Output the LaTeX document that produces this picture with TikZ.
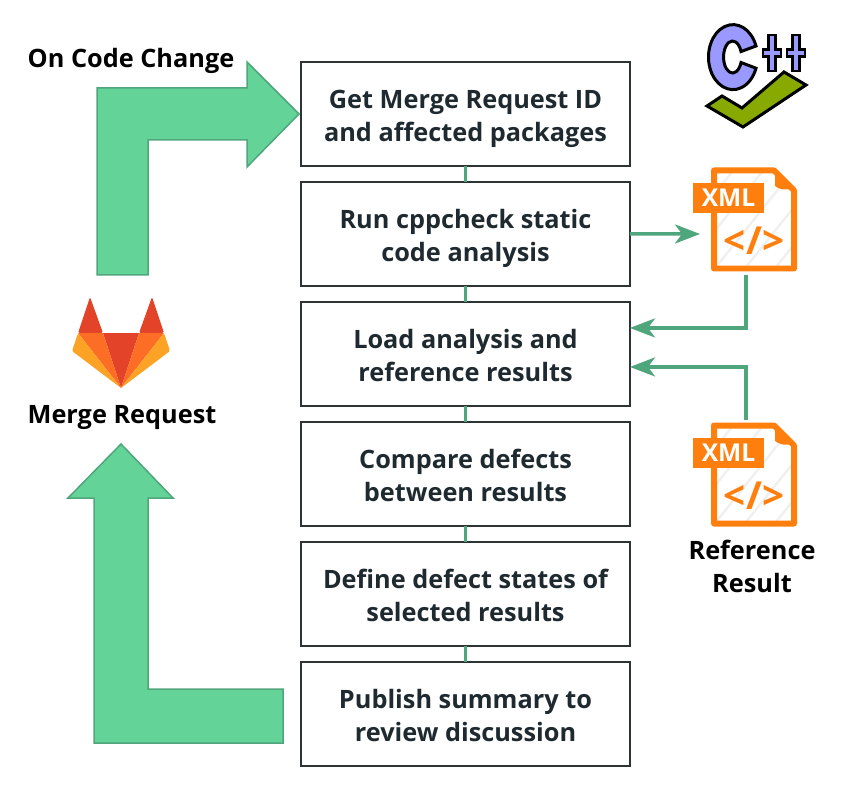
\documentclass[tikz,border=0pt]{standalone}
\usepackage{fontspec}
\setmainfont{Open Sans}
\usepackage{xcolor}
\usetikzlibrary{arrows.meta,positioning,calc}
\definecolor{boxline}{HTML}{2E3436}
\definecolor{inkdark}{HTML}{1F2A30}
\definecolor{linkgreen}{HTML}{4FA67C}
\definecolor{bigfill}{HTML}{64D398}
\definecolor{xmlorange}{HTML}{FF7F0E}
\definecolor{cppblue}{HTML}{9999FF}
\definecolor{cppgreen}{HTML}{88AA00}
\definecolor{labred}{HTML}{E24329}
\definecolor{laborange}{HTML}{FC6D26}
\definecolor{labyellow}{HTML}{FCA326}
\tikzset{
  stepbox/.style={draw=boxline,line width=0.04cm,outer sep=0pt,align=center,text=inkdark,
              font=\fontsize{14.4}{18.8}\selectfont\bfseries,text height=35.2pt,text depth=4pt,
              minimum width=6.58cm,minimum height=2.08cm,inner sep=0pt,fill=white},
  lbl/.style={align=center,text=black,inner sep=0pt,
              font=\fontsize{14.4}{18.8}\selectfont\bfseries},
  joinline/.style={line width=0.07cm,linkgreen},
  arr/.style={-{Stealth[length=0.5cm,width=0.38cm,inset=0.14cm]},line width=0.07cm,linkgreen},
  bigarrow/.style={draw=linkgreen,line width=0.03cm,fill=bigfill,line join=miter},
  xmlicon/.pic={
    % sheet with the folded corner, centred on the pic origin
    \node[minimum width=1.72cm,minimum height=2.1cm,inner sep=0pt,outer sep=0pt] (-body) at (0,0) {};
    \begin{scope}
      \clip (-40,-49) -- (20,-49) -- (40,-29) -- (40,49) -- (-40,49) -- cycle;
      \foreach \s in {-60,-30,...,90}
        \draw[black!6,line width=0.05cm] (\s-40,50) -- (\s+40,-50);
    \end{scope}
    \draw[xmlorange,line width=0.12cm,line join=round]
      (-40,-49) -- (20,-49) -- (40,-29) -- (40,49) -- (-40,49) -- cycle;
    \fill[xmlorange,rounded corners=0.02cm] (21,-51) -- (42,-30) -- (28,-30) -- (21,-33) -- cycle;
    \node[fill=xmlorange,text=white,inner sep=0pt,minimum width=1.42cm,minimum height=0.62cm,
          font=\fontsize{14}{14}\selectfont\bfseries] (-tag) at (-25.5,-21.5) {XML};
    \node[text=xmlorange,inner sep=0pt,font=\fontsize{22}{24}\selectfont\bfseries] (-code) at (0,21) {</>};
  },
}
\begin{document}
\begin{tikzpicture}[x=0.02cm,y=-0.02cm]
  \useasboundingbox (0,0) rectangle (868,800);

  % big arrows
  \draw[bigarrow] (97,275) -- (97,88) -- (247,88) -- (247,62) -- (299,114) -- (247,167)
    -- (247,140) -- (148,140) -- (148,275) -- cycle;
  \draw[bigarrow] (94,743) -- (94,498) -- (68,498) -- (121,444) -- (173,498) -- (148,498)
    -- (148,689) -- (283,689) -- (283,743) -- cycle;

  % steps
  \node[stepbox] (getid) at (465.5,114) {Get Merge Request ID\\and affected packages};
  \node[stepbox,below=0.32cm of getid] (runcheck) {Run cppcheck static\\code analysis};
  \node[stepbox,below=0.32cm of runcheck] (load) {Load analysis and\\reference results};
  \node[stepbox,below=0.32cm of load] (compare) {Compare defects\\between results};
  \node[stepbox,below=0.32cm of compare] (states) {Define defect states of\\selected results};
  \node[stepbox,below=0.32cm of states] (publish) {Publish summary to\\review discussion};
  \foreach \a/\b in {getid/runcheck,runcheck/load,load/compare,compare/states,states/publish}
    \draw[joinline] (\a.south) -- (\b.north);

  % labels
  \node[lbl] (oncode) at (131,61) {On Code Change};
  \node[lbl] (mergereq) at (122,418) {Merge Request};
  \node[lbl] (refres) at (752,566) {Reference\\Result};

  % gitlab logo
  \fill[labred] (121,388) -- (103,333) -- (139,333) -- cycle;
  \fill[labred,rounded corners=0.03cm] (78,333) -- (90,297) -- (103,333) -- cycle;
  \fill[labred,rounded corners=0.03cm] (139,333) -- (152,297) -- (164,333) -- cycle;
  \fill[laborange] (78,333) -- (103,333) -- (121,388) -- cycle;
  \fill[laborange] (164,333) -- (139,333) -- (121,388) -- cycle;
  \fill[labyellow,rounded corners=0.03cm] (78,333) -- (72,351) -- (121,388) -- cycle;
  \fill[labyellow,rounded corners=0.03cm] (164,333) -- (170,351) -- (121,388) -- cycle;

  % cpp logo
  \draw[black,line width=0.06cm,fill=cppgreen,line join=miter]
    (707,106) -- (722,96) -- (742,108) -- (784,72) -- (806,85) -- (743,127) -- cycle;
  \draw[black,line width=0.06cm,fill=cppblue]
    (756,46) arc[start angle=-20,end angle=-340,x radius=24.5,y radius=32.5]
    -- (741,62.5) arc[start angle=20,end angle=340,x radius=9,y radius=16] -- cycle;
  \foreach \p in {772,796}{
    \draw[black,line width=0.2cm] (\p,34) -- (\p,72) (\p-10,53) -- (\p+10,53);}
  \foreach \p in {772,796}{
    \draw[cppblue,line width=0.09cm] (\p,36) -- (\p,70) (\p-8,53) -- (\p+8,53);}

  % xml files
  \pic (xmlout) at (754,219.5) {xmlicon};
  \pic (xmlref) at (754,474.5) {xmlicon};
  \draw[arr] (runcheck.east) -- ($(xmlout-body.west)+(-11,14.5)$);
  \draw[arr] ($(xmlout-body.south)+(-8,3)$) |- ($(load.east)+(0,-26)$);
  \draw[arr] ($(xmlref-body.north)+(-8,-2)$) |- ($(load.east)+(0,13)$);
\end{tikzpicture}
\end{document}
